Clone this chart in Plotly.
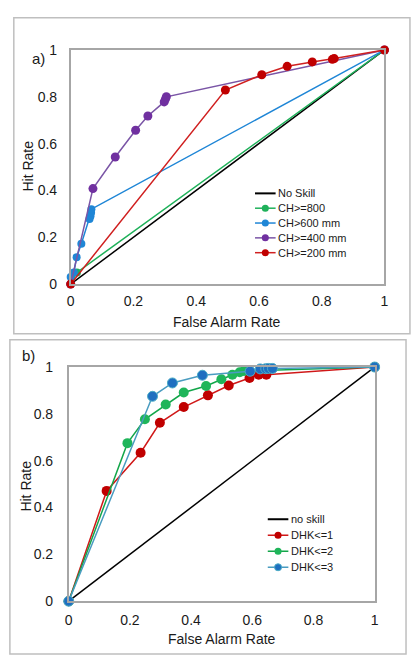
import plotly.graph_objects as go

W, H = 411, 657

# ---------- Panel a data ----------
a_noskill_x = [0, 1]
a_noskill_y = [0, 1]
a_ch800_x = [0, 0.02, 1]
a_ch800_y = [0, 0.05, 1]
a_ch600_x = [0, 0.0, 0.01, 0.019, 0.034, 0.06, 0.063, 0.065, 0.066, 1]
a_ch600_y = [0, 0.03, 0.05, 0.115, 0.172, 0.278, 0.29, 0.305, 0.32, 1]
a_ch400_x = [0, 0.071, 0.142, 0.207, 0.246, 0.298, 0.302, 0.305, 1]
a_ch400_y = [0, 0.408, 0.543, 0.657, 0.718, 0.778, 0.79, 0.80, 1]
a_ch200_x = [0, 0.493, 0.609, 0.69, 0.77, 0.834, 0.84, 1]
a_ch200_y = [0, 0.829, 0.894, 0.93, 0.949, 0.96, 0.963, 1]

# ---------- Panel b data ----------
b_noskill_x = [0, 1]
b_noskill_y = [0, 1]
b_dhk1_x = [0, 0.124, 0.235, 0.298, 0.376, 0.455, 0.523, 0.591, 0.621, 0.646, 1]
b_dhk1_y = [0, 0.471, 0.634, 0.762, 0.829, 0.879, 0.921, 0.953, 0.967, 0.967, 1]
b_dhk2_x = [0, 0.192, 0.249, 0.317, 0.376, 0.449, 0.499, 0.535, 0.559, 0.573, 1]
b_dhk2_y = [0, 0.675, 0.777, 0.840, 0.891, 0.919, 0.948, 0.967, 0.978, 0.983, 1]
b_dhk3_x = [0, 0.274, 0.339, 0.437, 0.593, 0.626, 0.644, 0.653, 0.666, 1]
b_dhk3_y = [0, 0.875, 0.932, 0.965, 0.982, 0.992, 0.993, 0.994, 0.994, 1]

tick_vals = [0, 0.2, 0.4, 0.6, 0.8, 1]
tick_text = ["0", "0.2", "0.4", "0.6", "0.8", "1"]

FONT = "Liberation Sans, Arial, sans-serif"
TXT = "#1a1a1a"
GRAY = "#a6a6a6"

fig = go.Figure()
legend_items = {"a": [], "b": []}


def add(panel, x, y, name, color, xa, ya, marker=True, mcolor=None, mline=None, size=9, lw=1.5):
    mode = "lines+markers" if marker else "lines"
    fig.add_trace(go.Scatter(
        x=x, y=y, name=name, mode=mode, xaxis=xa, yaxis=ya, showlegend=False,
        line=dict(color=color, width=lw),
        marker=dict(size=size, color=mcolor or color,
                    line=dict(color=mline or (mcolor or color), width=1 if mline else 0)),
        cliponaxis=False,
    ))
    legend_items[panel].append((name, color, marker, mcolor or color, mline))


# panel a
add("a", a_noskill_x, a_noskill_y, "No Skill", "#000000", "x", "y", marker=False)
add("a", a_ch800_x, a_ch800_y, "CH&gt;=800", "#1fb15a", "x", "y", size=8)
add("a", a_ch600_x, a_ch600_y, "CH&gt;600 mm", "#1f86d6", "x", "y", size=8)
add("a", a_ch400_x, a_ch400_y, "CH&gt;=400 mm", "#7a55a6", "x", "y", mcolor="#7030a0", size=9)
add("a", a_ch200_x, a_ch200_y, "CH&gt;=200 mm", "#d02020", "x", "y", mcolor="#c00000", size=9)

# panel b
add("b", b_noskill_x, b_noskill_y, "no skill", "#000000", "x2", "y2", marker=False)
add("b", b_dhk1_x, b_dhk1_y, "DHK&lt;=1", "#d01818", "x2", "y2", mcolor="#c00000", size=10)
add("b", b_dhk2_x, b_dhk2_y, "DHK&lt;=2", "#13a64a", "x2", "y2", mcolor="#1fb55a", size=10)
add("b", b_dhk3_x, b_dhk3_y, "DHK&lt;=3", "#4a9cc0", "x2", "y2", mcolor="#1f6fc0", mline="#4bacc6", size=10)


def px_x(p):
    return p / W


def px_y(p):
    return 1 - p / H


axis_common = dict(range=[0, 1], tickvals=tick_vals, ticktext=tick_text, showgrid=False,
                   zeroline=False, showline=True, linecolor=GRAY, linewidth=1.5, mirror=True,
                   ticks="", tickfont=dict(family=FONT, size=14, color=TXT))

shapes = [
    dict(type="rect", xref="paper", yref="paper", x0=px_x(10), x1=px_x(414),
         y0=px_y(334), y1=px_y(10), line=dict(color="#bfbfbf", width=1.5)),
    dict(type="rect", xref="paper", yref="paper", x0=px_x(6), x1=px_x(410),
         y0=px_y(662), y1=px_y(340), line=dict(color="#bfbfbf", width=1.5)),
]
annotations = [
    dict(text="a)", xref="paper", yref="paper", x=px_x(27), y=px_y(52),
         xanchor="left", yanchor="middle", showarrow=False,
         font=dict(family=FONT, size=15, color=TXT)),
    dict(text="b)", xref="paper", yref="paper", x=px_x(16), y=px_y(356),
         xanchor="left", yanchor="middle", showarrow=False,
         font=dict(family=FONT, size=15, color=TXT)),
    # axis titles
    dict(text="False Alarm Rate", xref="paper", yref="paper", x=px_x(227), y=px_y(322),
         xanchor="center", yanchor="middle", showarrow=False,
         font=dict(family=FONT, size=14, color=TXT)),
    dict(text="Hit Rate", xref="paper", yref="paper", x=px_x(25), y=px_y(162),
         xanchor="center", yanchor="middle", showarrow=False, textangle=-90,
         font=dict(family=FONT, size=14, color=TXT)),
    dict(text="False Alarm Rate", xref="paper", yref="paper", x=px_x(222), y=px_y(647),
         xanchor="center", yanchor="middle", showarrow=False,
         font=dict(family=FONT, size=14, color=TXT)),
    dict(text="Hit Rate", xref="paper", yref="paper", x=px_x(23), y=px_y(490),
         xanchor="center", yanchor="middle", showarrow=False, textangle=-90,
         font=dict(family=FONT, size=14, color=TXT)),
]

# manual legends (compact row spacing as in the reference)
legend_geom = {"a": (256, 277, 190, 15.2), "b": (269, 290, 524, 16.4)}
for panel, (lx0, lx1, ly0, dy) in legend_geom.items():
    for i, (name, color, marker, mcolor, mline) in enumerate(legend_items[panel]):
        yy = ly0 + i * dy
        shapes.append(dict(type="line", xref="paper", yref="paper",
                           x0=px_x(lx0), x1=px_x(lx1), y0=px_y(yy), y1=px_y(yy),
                           line=dict(color=color, width=2 if not marker else 1.5)))
        if marker:
            cx = (lx0 + lx1) / 2
            r = 3.6
            shapes.append(dict(type="circle", xref="paper", yref="paper",
                               x0=px_x(cx - r), x1=px_x(cx + r),
                               y0=px_y(yy + r), y1=px_y(yy - r),
                               fillcolor=mcolor,
                               line=dict(color=mline or mcolor, width=1 if mline else 0)))
        annotations.append(dict(text=name, xref="paper", yref="paper",
                                x=px_x(lx1 + 0.5), y=px_y(yy), xanchor="left", yanchor="middle",
                                showarrow=False, font=dict(family=FONT, size=11, color=TXT)))

fig.update_layout(
    width=W, height=H, margin=dict(l=0, r=0, t=0, b=0),
    paper_bgcolor="white", plot_bgcolor="white",
    font=dict(family=FONT, color=TXT),
    showlegend=False,
    xaxis=dict(axis_common, domain=[px_x(68), px_x(388)], anchor="y", ticklabelstandoff=3),
    yaxis=dict(axis_common, domain=[px_y(283), px_y(43)], anchor="x", ticklabelstandoff=9),
    xaxis2=dict(axis_common, domain=[px_x(66), px_x(378)], anchor="y2", ticklabelstandoff=5),
    yaxis2=dict(axis_common, domain=[px_y(608), px_y(368)], anchor="x2", ticklabelstandoff=11),
    shapes=shapes,
    annotations=annotations,
)

fig.write_html("out.html",
               config={"displayModeBar": False},
               post_script="document.body.style.margin='0px';document.body.style.overflow='hidden';")
